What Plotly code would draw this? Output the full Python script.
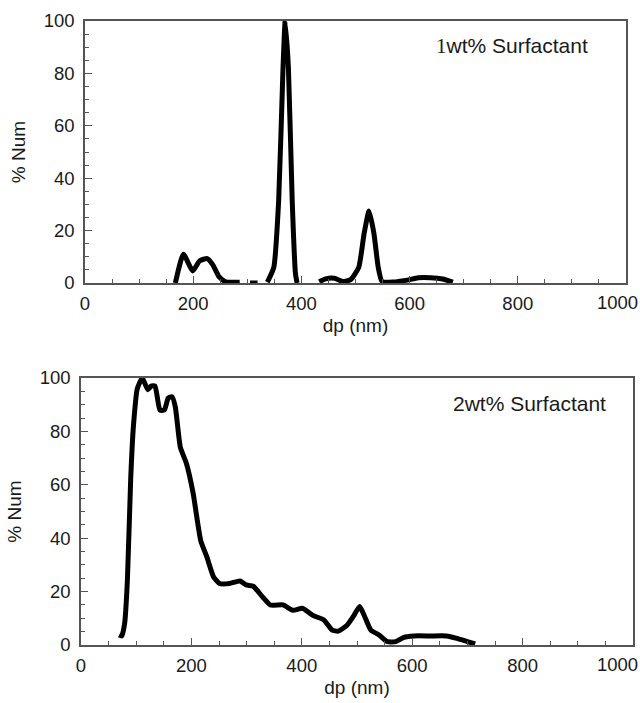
import plotly.graph_objects as go

# Top panel: 1 wt% surfactant (None = gap in the measured curve)
dp_1wt = [167, 182, 199, 212, 226, 236, 248, 260, 286, None,
          305, 319, None,
          337, 349, 358, 366, 370, 376, 383, 389, 392, None,
          433, 445, 461, 476, 491, 506, 516, 525, 534, 542, 549, 570, 593, 616, 639, 661, 680]
num_1wt = [0, 11, 4.6, 8.5, 9.3, 7, 2.3, 0.4, 0.3, None,
           0, 0, None,
           0.3, 6, 31.5, 82, 100, 82, 31.5, 3.6, 0, None,
           0.5, 1.6, 1.8, 0.6, 1.3, 6, 19, 27.5, 19, 6, 0.6, 0.4, 1, 2, 2, 1.5, 0.3]

# Bottom panel: 2 wt% surfactant
dp_2wt = [69, 74, 79, 84, 90, 95, 102, 111, 121, 127, 134, 143, 151, 158, 165, 171,
          180, 191, 203, 217, 228, 240, 251, 269, 288, 299, 312, 329, 343, 366, 384,
          401, 421, 440, 455, 466, 481, 493, 505, 514, 525, 540, 555, 570, 585, 603,
          633, 662, 681, 700, 714]
num_2wt = [3.75, 3.4, 8, 24, 62, 82, 96, 100, 95.6, 97, 97, 88, 88, 92.5, 93, 89,
           74, 68, 57, 39, 33, 25.6, 23, 23, 24, 22.5, 22, 18, 15, 15, 13,
           13.75, 11, 9.4, 5.6, 5.2, 7.2, 10.6, 14.4, 10.6, 5.6, 3.75, 1.25, 1.25, 2.9, 3.4,
           3.4, 3.4, 2.5, 1.25, 0.4]

x_ticks = [0, 200, 400, 600, 800, 1000]
x_ticktext = ["0", "200", "400", "600", "800", ""]   # last label drawn flush with the edge
y_ticks = [0, 20, 40, 60, 80, 100]

FONT = "Liberation Sans, Arial, sans-serif"
LINE_COL = "#555555"
TXT = "#1a1a1a"

fig = go.Figure()
fig.add_trace(go.Scatter(x=dp_1wt, y=num_1wt, mode="lines", connectgaps=False,
                         line=dict(color="black", width=5, shape="spline", smoothing=0.5),
                         xaxis="x", yaxis="y", showlegend=False))
fig.add_trace(go.Scatter(x=dp_2wt, y=num_2wt, mode="lines",
                         line=dict(color="black", width=5, shape="spline", smoothing=0.5),
                         xaxis="x2", yaxis="y2", showlegend=False))

def xax(domain, anchor):
    return dict(domain=domain, anchor=anchor, range=[0, 1000],
                tickvals=x_ticks, ticktext=x_ticktext,
                showline=True, linecolor=LINE_COL, linewidth=1.5, mirror=True,
                ticks="inside", ticklen=7, tickcolor=LINE_COL, tickwidth=1,
                minor=dict(ticks="inside", dtick=50, ticklen=4, tickcolor=LINE_COL),
                showgrid=False, zeroline=False, ticklabelstandoff=3,
                tickfont=dict(family=FONT, size=18.5, color=TXT),
                title=dict(text="dp (nm)", font=dict(family=FONT, size=19, color=TXT),
                           standoff=6),
                automargin=False)

def yax(domain, anchor):
    return dict(domain=domain, anchor=anchor, range=[0, 100], tickvals=y_ticks,
                showline=True, linecolor=LINE_COL, linewidth=1.5, mirror=True,
                ticks="inside", ticklen=7, tickcolor=LINE_COL, tickwidth=1,
                minor=dict(ticks="inside", dtick=5, ticklen=4, tickcolor=LINE_COL),
                showgrid=False, zeroline=False, ticklabelstandoff=5,
                tickfont=dict(family=FONT, size=18.5, color=TXT),
                title=dict(text="% Num", font=dict(family=FONT, size=19, color=TXT),
                           standoff=13),
                automargin=False)

fig.update_layout(
    width=640, height=703,
    margin=dict(l=0, r=0, t=0, b=0),
    paper_bgcolor="white", plot_bgcolor="white",
    xaxis=xax([85/640, 626/640], "y"),
    yaxis=yax([1-283/703, 1-21/703], "x"),
    xaxis2=xax([81/640, 633/640], "y2"),
    yaxis2=yax([1-645/703, 1-378/703], "x2"),
    annotations=[
        dict(text='<span style="font-family:Liberation Serif">1</span>wt% Surfactant',
             xref="paper", yref="paper", x=512/640, y=1-46/703,
             xanchor="center", yanchor="middle",
             showarrow=False, font=dict(family=FONT, size=21, color=TXT)),
        dict(text="2wt% Surfactant",
             xref="paper", yref="paper", x=529/640, y=1-403/703,
             xanchor="center", yanchor="middle",
             showarrow=False, font=dict(family=FONT, size=21, color=TXT)),
        dict(text="1000", xref="paper", yref="paper", x=1, y=1-302/703,
             xanchor="right", yanchor="middle", showarrow=False,
             font=dict(family=FONT, size=18.5, color=TXT)),
        dict(text="1000", xref="paper", yref="paper", x=1, y=1-664/703,
             xanchor="right", yanchor="middle", showarrow=False,
             font=dict(family=FONT, size=18.5, color=TXT)),
    ],
)

fig.write_html("out.html")
